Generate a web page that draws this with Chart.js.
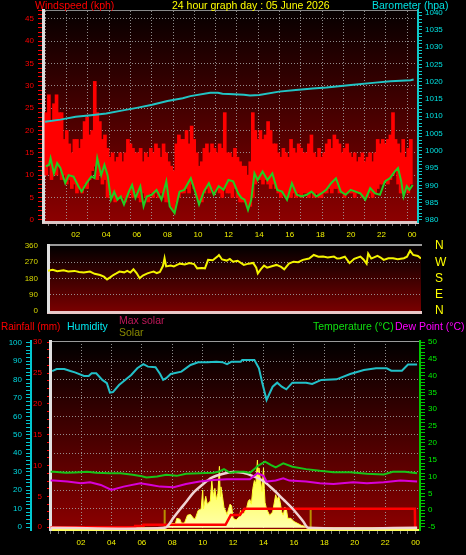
<!DOCTYPE html>
<html><head><meta charset="utf-8">
<script src="https://cdn.jsdelivr.net/npm/chart.js@4.4.0/dist/chart.umd.min.js"></script>
<style>
html,body{margin:0;padding:0;background:#000;}
#wrap{position:relative;width:466px;height:555px;overflow:hidden;background:#000;font-family:"Liberation Sans",Arial,sans-serif;}
canvas{position:absolute;left:0;}
.t{position:absolute;font-size:10.5px;line-height:11px;white-space:nowrap;}
</style></head><body>
<div id="wrap">
<canvas id="c1" width="466" height="246" style="top:0px"></canvas>
<canvas id="c2" width="466" height="84" style="top:236px"></canvas>
<canvas id="c3" width="466" height="225" style="top:330px"></canvas>
<div class="t" style="left:35px;top:0px;color:#ff0000">Windspeed (kph)</div>
<div class="t" style="left:172px;top:0px;color:#ffff00">24 hour graph day : 05 June 2026</div>
<div class="t" style="left:372px;top:0px;color:#00e0e0">Barometer (hpa)</div>
<div class="t" style="left:1px;top:321px;color:#ff0000;font-size:10px">Rainfall (mm)</div>
<div class="t" style="left:67px;top:321px;color:#00e8f0">Humidity</div>
<div class="t" style="left:119px;top:315px;color:#c0185a">Max solar</div>
<div class="t" style="left:119px;top:327px;color:#8a8a00">Solar</div>
<div class="t" style="left:313px;top:321px;color:#10e010">Temperature (°C)</div>
<div class="t" style="left:395px;top:321px;color:#ff00ff">Dew Point (°C)</div>
</div>
<script>
// ---------- DATA ----------
const windBinMinutes = 10;
const windHi = [
24,28,22,26,28,24, 24,18,20,17,15,18, 18,16,18,22,23,19, 20,31,24,22,18,19,
16,14,15,13,14,15, 13,15,18,17,16,15, 15,16,13,15,14,16, 15,17,16,14,17,15,
13,12,11,17,19,18, 18,20,17,21,18,15, 12,13,16,17,15,17, 16,15,17,16,24,15,
15,14,16,14,13,12, 12,10,13,24,20,18, 20,18,19,22,20,17, 17,15,14,16,15,14,
18,16,15,17,16,15, 15,17,19,15,14,16, 14,15,17,18,16,19, 18,17,15,16,17,15,
14,15,13,14,15,13, 14,15,13,15,18,17, 18,17,18,19,24,18, 17,15,18,14,16,18];
const windLo = [
10,12,9,11,10,12, 9,10,8,9,7,8, 6,7,6,8,7,9, 11,12,9,10,8,9,
5,6,5,4,5,5, 5,4,5,6,5,6, 5,4,6,5,4,6, 5,6,5,6,5,4,
4,3,2,4,5,6, 6,7,6,8,7,5, 4,4,6,7,6,7, 6,7,6,5,7,6,
6,5,7,5,4,4, 4,3,3,5,8,9, 9,8,9,8,7,8, 7,6,5,6,5,5,
5,6,5,6,5,6, 6,5,6,5,6,5, 5,6,6,7,6,7, 7,6,6,5,6,6,
6,5,6,6,5,5, 5,6,5,6,7,8, 8,9,8,9,10,11, 8,6,6,7,6,8];
const avgT = [0.05,0.26,0.36,0.58,0.79,1.0,1.32,1.54,1.86,2.18,2.39,2.71,3.03,3.24,3.41,3.67,3.88,4.09,4.31,4.52,4.73,4.95,5.16,5.48,5.69,5.91,6.23,6.44,6.65,6.97,7.29,7.61,7.93,8.15,8.47,8.79,9.1,9.53,9.85,10.07,10.38,10.71,11.03,11.35,11.67,11.99,12.3,12.63,12.84,13.05,13.27,13.48,13.69,13.9,14.22,14.54,14.86,15.18,15.5,15.82,16.14,16.46,16.78,17.1,17.42,17.74,18.06,18.38,18.7,19.02,19.34,19.66,19.98,20.3,20.62,20.94,21.26,21.58,21.9,22.22,22.54,22.86,23.08,23.29,23.44,23.65,23.82,24.04];
const avgSpeed = [12.0,12.3,13.8,10.4,12.7,11.6,8.2,10.0,9.7,7.5,6.3,8.2,9.7,9.3,13.8,10.0,12.3,10.0,4.5,6.3,4.5,5.2,3.4,6.3,7.8,4.9,7.5,3.0,5.2,5.6,6.7,4.5,8.6,3.0,1.5,6.3,6.7,9.3,5.9,3.4,6.3,8.2,5.6,7.5,6.7,8.9,8.6,5.9,4.9,4.5,2.2,4.5,10.4,8.9,10.8,8.9,10.4,6.7,6.3,4.5,8.2,5.6,5.2,5.6,6.3,5.2,5.9,6.7,8.2,9.3,6.3,5.6,6.7,6.3,5.9,4.5,7.1,5.9,5.6,8.6,9.3,10.8,11.6,8.6,5.2,7.5,6.7,7.8];
const baroT = [0,1.0,2.0,3.0,4.0,5.0,6.0,7.0,8.0,9.0,9.5,10.8,11.3,11.6,12.0,13.0,13.4,14.0,15.3,16.4,17.5,18.4,20.0,21.6,22.6,23.9,24.1];
const baro = [1008.4,1009.0,1009.8,1010.3,1010.8,1011.6,1012.4,1013.3,1014.4,1015.2,1015.8,1016.8,1016.8,1016.5,1016.4,1016.2,1016.0,1016.1,1017.1,1017.6,1018.0,1018.3,1019.0,1019.7,1020.1,1020.4,1020.6];
const dirT = [0.0,0.3,0.6,1.0,1.3,1.7,2.0,2.3,2.7,3.0,3.35,3.6,3.8,4.0,4.2,4.4,4.6,4.9,5.1,5.3,5.5,5.7,5.9,6.1,6.4,6.6,6.8,7.0,7.2,7.4,7.5,7.6,7.9,8.1,8.3,8.5,8.8,9.1,9.4,9.6,9.9,10.1,10.3,10.6,10.9,11.0,11.2,11.5,11.7,11.9,12.2,12.6,12.9,13.2,13.4,13.5,13.7,13.9,14.1,14.4,14.7,15.0,15.2,15.5,15.8,16.1,16.4,16.8,17.1,17.4,17.7,18.0,18.4,18.6,18.8,19.1,19.4,19.7,20.1,20.3,20.5,20.6,20.8,21.2,21.4,21.6,21.9,22.2,22.5,22.9,23.1,23.3,23.5,23.8,24.0];
const dir = [223,228,220,225,219,222,216,213,218,206,199,190,175,186,199,208,218,214,222,213,231,210,181,196,208,214,218,210,216,250,292,247,252,247,255,262,258,266,260,236,238,236,283,281,301,310,285,279,288,273,278,255,262,266,240,208,232,251,240,248,255,244,231,262,273,270,283,290,310,300,301,296,301,290,292,300,265,289,301,285,262,318,290,305,296,283,292,292,286,292,300,334,310,304,290];
const dirTickLabels = ['N','E','S','W','N'];
const humT = [0.1,0.4,0.9,1.3,1.6,2.2,2.5,2.7,3.0,3.4,3.7,3.9,4.1,4.5,4.9,5.3,5.7,6.1,6.4,6.9,7.2,7.4,7.6,7.9,8.6,9.2,9.7,10.3,10.9,11.3,11.6,11.9,12.5,12.6,13.4,13.7,13.9,14.2,14.6,14.9,15.2,15.5,15.9,16.8,17.2,17.8,18.8,19.7,20.6,21.4,22.1,22.4,23.1,23.5,24.1];
const hum = [84.6,85.7,85.7,84.6,83.9,81.9,81.9,83.4,83.4,79.8,78.0,72.9,73.2,77.0,79.8,82.5,86.1,88.3,87.0,86.7,83.0,79.8,80.7,83.0,84.3,87.9,89.4,89.4,89.7,89.4,88.3,89.7,89.7,90.6,90.6,86.1,78.8,68.9,76.1,78.3,76.1,74.7,78.3,78.3,77.6,79.8,80.1,83.0,85.2,86.1,86.1,84.8,84.8,88.1,88.1];
const tempT = [0,0.2,1.0,1.6,2.4,3.0,3.9,4.6,5.4,6.0,6.3,7.0,7.6,8.3,8.9,9.8,10.7,11.1,11.4,11.8,12.3,12.7,13.1,13.4,13.6,14.1,14.5,14.8,15.3,15.9,16.8,17.7,18.6,19.7,20.8,21.9,22.5,23.3,24.1];
const temp = [11.4,11.4,11.1,11.2,11.4,11.1,11.0,11.0,10.5,10.1,9.7,10.0,10.5,10.2,10.8,11.0,11.1,11.5,12.2,11.1,11.4,11.4,11.1,12.2,13.1,14.4,13.4,12.7,13.9,12.9,12.2,11.7,11.3,11.3,10.8,10.6,11.4,11.4,11.0];
const dewT = [0,0.2,1.1,2.0,2.6,3.3,4.0,4.8,5.9,6.6,7.2,8.1,8.9,9.8,10.7,11.6,12.5,13.1,13.6,14.0,14.2,14.8,15.3,15.7,16.8,17.7,18.6,19.9,20.8,21.9,23.0,24.1];
const dew = [8.8,8.8,8.5,8.0,8.3,7.5,6.0,7.0,8.0,7.5,7.0,6.8,7.8,8.5,9.0,9.2,9.2,9.2,11.0,10.2,8.5,8.8,9.5,8.8,8.5,8.0,7.8,8.3,8.0,8.3,8.8,8.5];
const rainT = [0,5.55,5.56,6.1,6.11,11.5,11.85,12.45,12.75,23.95,23.97];
const rain = [0,0,0.2,0.2,0.4,0.4,2.0,2.0,3.0,3.0,0];
const solarT = [0,7.6,7.9,8.2,8.3,8.5,8.6,8.8,9.0,9.2,9.4,9.5,9.7,9.9,10.0,10.05,10.2,10.3,10.5,10.6,10.7,10.8,10.9,11.0,11.1,11.15,11.2,11.3,11.4,11.6,11.7,11.8,11.9,12.0,12.2,12.4,12.5,12.7,12.9,13.0,13.1,13.2,13.3,13.4,13.5,13.6,13.65,13.7,13.8,13.9,14.0,14.05,14.1,14.2,14.4,14.6,14.8,14.9,15.0,15.1,15.2,15.3,15.4,15.5,15.6,15.8,16.0,16.2,16.5,16.7,16.8,24.1];
const solar = [0,0,30,25,60,55,30,30,80,85,60,55,110,120,240,120,200,150,170,300,200,250,180,220,390,200,260,200,130,85,120,150,140,60,50,70,110,90,130,170,180,150,250,300,280,430,330,380,300,230,380,250,160,120,80,100,210,180,200,160,100,80,130,120,60,60,40,30,15,10,0,0];
const maxSolT = [0,7.5,8.07,8.5,8.96,9.38,10.0,10.6,11.36,12.0,12.67,13.3,14.0,14.64,15.3,15.96,16.6,16.95,24.1];
const maxSol = [0,0,63,116,170,222,275,318,343,354,349,328,296,243,180,116,42,0,0];
const sunMarkT = [7.5,17.1];
const sunMarkLevel = 115;

// ---------- HELPERS ----------
const FONT = "'Liberation Sans', Arial, sans-serif";
const GRID = 'rgba(165,165,165,0.85)';
const DASH = [1,2];
const NONE = 'rgba(0,0,0,0)';
const pts = (t, v) => t.map((x, i) => ({x, y: v[i]}));
const hourLabel = v => (v > 0 && Math.abs(v % 2) < 1e-9) ? String(Math.round(v) % 24).padStart(2, '0') : '';
const bgPlugin = {
  id: 'bg',
  beforeDraw(chart, args, o) {
    const {ctx, chartArea: a} = chart;
    if (!a) return;
    const g = ctx.createLinearGradient(0, a.top, 0, a.bottom);
    g.addColorStop(0, o.top); g.addColorStop(1, o.bottom);
    ctx.save(); ctx.fillStyle = g;
    ctx.fillRect(a.left, a.top, a.right - a.left, a.bottom - a.top);
    ctx.restore();
  }
};
const base = {responsive: false, animation: false, events: []};
const f8 = {size: 8, family: FONT};

// ---------- CHART 1 : wind + barometer ----------
new Chart(document.getElementById('c1'), {
  type: 'bar',
  plugins: [bgPlugin],
  data: {datasets: [
    {type: 'line', data: pts(baroT, baro), yAxisID: 'y1', xAxisID: 'x', borderColor: '#22c4c4', borderWidth: 2, pointRadius: 0, order: 0},
    {type: 'line', data: pts(avgT, avgSpeed), yAxisID: 'y', xAxisID: 'x', borderColor: '#22cc22', borderWidth: 2, pointRadius: 0, order: 1},
    {type: 'bar', data: windHi.map((h, i) => ({x: (i + 0.5) * windBinMinutes / 60, y: [windLo[i], h]})), yAxisID: 'y', xAxisID: 'x', backgroundColor: '#ff0000', borderWidth: 0, barThickness: 3, order: 2}
  ]},
  options: Object.assign({}, base, {
    layout: {padding: {top: 10}},
    plugins: {legend: {display: false}, tooltip: {enabled: false}, bg: {top: '#060000', bottom: '#8c0000'}},
    scales: {
      x: {type: 'linear', position: 'bottom', min: 0.12, max: 24.13,
          ticks: {stepSize: 0.5, autoSkip: false, includeBounds: false, maxRotation: 0, color: '#f0f000', font: f8, padding: 4, callback: hourLabel},
          grid: {drawOnChartArea: false, tickLength: 4, tickColor: '#777'},
          border: {color: '#dcc8c8', width: 3},
          afterFit: s => { s.height = 24; }},
      xg: {type: 'linear', position: 'top', min: -0.088, max: 16.486,
          ticks: {display: false, stepSize: 1, includeBounds: false},
          grid: {color: GRID, drawTicks: false},
          border: {color: '#888', width: 1, dash: DASH},
          afterFit: s => { s.height = 0; }},
      y: {position: 'left', min: -0.5, max: 47,
          ticks: {stepSize: 1, autoSkip: false, includeBounds: false, color: '#ff0000', font: f8, padding: 4, callback: v => (v % 5 === 0 ? v : '')},
          grid: {color: c => (c.tick && c.tick.value % 5 === 0 && c.tick.value > 0 ? GRID : NONE), tickColor: '#ff0000', tickLength: 5},
          border: {color: '#dcdcdc', width: 3, dash: DASH},
          afterFit: s => { s.width = 43; }},
      y1: {position: 'right', min: 979.4, max: 1040.7,
          ticks: {stepSize: 1, autoSkip: false, includeBounds: false, color: '#00e0e0', font: f8, padding: 3, callback: v => (v % 5 === 0 ? v : '')},
          grid: {drawOnChartArea: false, tickColor: '#10c8c8', tickLength: 4},
          border: {color: '#10c8c8', width: 2},
          afterFit: s => { s.width = 48; }}
    }
  })
});

// ---------- CHART 2 : wind direction ----------
new Chart(document.getElementById('c2'), {
  type: 'line',
  plugins: [bgPlugin],
  data: {datasets: [
    {data: pts(dirT, dir), yAxisID: 'y', borderColor: '#f4f400', borderWidth: 2, pointRadius: 0}
  ]},
  options: Object.assign({}, base, {
    layout: {padding: {top: 9, bottom: 8}},
    plugins: {legend: {display: false}, tooltip: {enabled: false}, bg: {top: '#000000', bottom: '#7a0000'}},
    scales: {
      x: {type: 'linear', min: 0, max: 24, ticks: {display: false}, grid: {display: false, drawTicks: false},
          border: {color: '#e8c8c8', width: 3}, afterFit: s => { s.height = 0; }},
      xt: {type: 'linear', position: 'top', min: 0, max: 24, ticks: {display: false}, grid: {display: false, drawTicks: false},
          border: {color: '#9a9a9a', width: 2}, afterFit: s => { s.height = 0; }},
      y: {position: 'left', min: -5, max: 365,
          ticks: {stepSize: 90, autoSkip: false, includeBounds: false, color: '#d8d800', font: f8, padding: 0},
          grid: {color: c => (c.tick && c.tick.value > 0 && c.tick.value < 360 ? GRID : NONE), tickColor: NONE, tickLength: 10},
          border: {color: '#e0e0e0', width: 3, dash: DASH},
          afterFit: s => { s.width = 48; }},
      y1: {position: 'right', min: -5, max: 365,
          ticks: {stepSize: 90, autoSkip: false, includeBounds: false, color: '#ffff00', font: {size: 12, family: FONT}, padding: 0, callback: v => dirTickLabels[Math.round(v / 90)]},
          grid: {drawOnChartArea: false, tickColor: NONE, tickLength: 14}, border: {display: false},
          afterFit: s => { s.width = 45; }}
    }
  })
});

// ---------- CHART 3 : rain / humidity / temperature / solar ----------
new Chart(document.getElementById('c3'), {
  type: 'line',
  plugins: [bgPlugin],
  data: {datasets: [
    {data: pts(humT, hum), yAxisID: 'yh', borderColor: '#22c0c8', borderWidth: 2, pointRadius: 0, order: 0},
    {data: pts(tempT, temp), yAxisID: 'yt', borderColor: '#18c418', borderWidth: 2, pointRadius: 0, order: 1},
    {data: pts(dewT, dew), yAxisID: 'yt', borderColor: '#d800d8', borderWidth: 2, pointRadius: 0, order: 2},
    {data: pts(maxSolT, maxSol), yAxisID: 'ys', borderColor: '#f0d4d4', borderWidth: 2.5, pointRadius: 0, tension: 0.3, order: 3},
    {data: pts(rainT, rain), yAxisID: 'yr', borderColor: '#ff0000', borderWidth: 2.5, pointRadius: 0, order: 4},
    {data: sunMarkT.flatMap(t => [{x: t, y: 0}, {x: t, y: sunMarkLevel}, {x: t, y: null}]), yAxisID: 'ys', borderColor: '#b89000', borderWidth: 2, pointRadius: 0, spanGaps: false, order: 5},
    {data: pts(solarT, solar), yAxisID: 'ys', borderColor: '#ffff30', borderWidth: 1, pointRadius: 0, order: 6, fill: 'origin',
     backgroundColor: c => { const a = c.chart.chartArea; if (!a) return '#ffff40'; const g = c.chart.ctx.createLinearGradient(0, a.bottom, 0, a.bottom - 70); g.addColorStop(0, '#ffffb0'); g.addColorStop(1, '#ffff20'); return g; }}
  ]},
  options: Object.assign({}, base, {
    layout: {padding: {top: 11}},
    plugins: {legend: {display: false}, tooltip: {enabled: false}, bg: {top: '#000000', bottom: '#8c0000'}},
    scales: {
      x: {type: 'linear', position: 'bottom', min: -0.04, max: 24.29,
          ticks: {stepSize: 0.5, autoSkip: false, includeBounds: false, maxRotation: 0, color: '#f0f000', font: f8, padding: 4, callback: hourLabel},
          grid: {color: c => (c.tick && c.tick.value % 2 === 0 && c.tick.value > 0 && c.tick.value < 24 ? GRID : NONE), tickLength: 4, tickColor: '#777'},
          border: {color: '#ffff60', width: 2, dash: DASH},
          afterFit: s => { s.height = 25; }},
      xt: {type: 'linear', position: 'top', min: 0, max: 24, ticks: {display: false}, grid: {display: false, drawTicks: false},
          border: {color: '#9a9a9a', width: 1}, afterFit: s => { s.height = 0; }},
      yr: {position: 'left', weight: 0, min: -0.44, max: 30.2,
          ticks: {stepSize: 1.25, autoSkip: false, includeBounds: false, color: '#ff0000', font: f8, padding: 5, callback: v => (v % 5 === 0 ? v : '')},
          grid: {drawOnChartArea: false, tickColor: '#ff0000', tickLength: 3},
          border: {color: '#e0e0e0', width: 3},
          afterFit: s => { s.width = 19; }},
      yh: {position: 'left', weight: 1, min: -1.6, max: 100.9,
          ticks: {stepSize: 2, autoSkip: false, includeBounds: false, color: '#00d8e0', font: f8, padding: 4, callback: v => (v % 10 === 0 ? v : '')},
          grid: {color: c => (c.tick && c.tick.value % 10 === 0 && c.tick.value > 0 && c.tick.value < 100 ? GRID : NONE), tickColor: '#00c8d0', tickLength: 5},
          border: {color: '#00c8d0', width: 2, dash: DASH},
          afterFit: s => { s.width = 31; }},
      yt: {position: 'right', min: -5.9, max: 50.3,
          ticks: {stepSize: 1, autoSkip: false, includeBounds: false, color: '#00f000', font: f8, padding: 3, callback: v => (v % 5 === 0 ? v : '')},
          grid: {drawOnChartArea: false, tickColor: '#00c800', tickLength: 5},
          border: {color: '#00c800', width: 2},
          afterFit: s => { s.width = 46; }},
      ys: {display: false, min: -14, max: 1186}
    }
  })
});
</script>
</body></html>
